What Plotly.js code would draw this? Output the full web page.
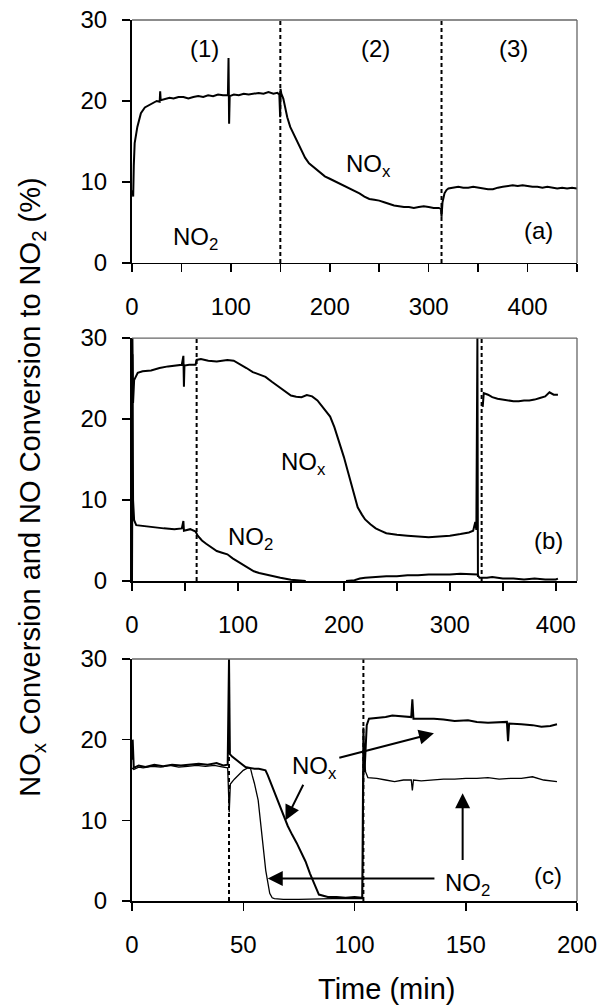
<!DOCTYPE html>
<html>
<head>
<meta charset="utf-8">
<script src="https://cdn.plot.ly/plotly-3.0.1.min.js"></script>
<style>
  html, body { margin: 0; padding: 0; background: #fff; }
  #chart { width: 597px; height: 1006px; }
</style>
</head>
<body>
<div id="chart"></div>
<script>
// ---------- Panel (a) ----------
const timeA = [0.5,1.2,1.8,2.7,5.4,9,13,17,21,25,28,28.5,29,33,38,42,47,52,57,62,67,72,77,82,87,92,97,97.6,98.2,98.8,103,108,113,118,123,128,133,138,143,147,149,149.8,150.2,151,153,155,157,160,163,167,171,175,179,183,187,191,195,200,205,210,215,220,225,230,235,240,245,250,255,260,265,270,275,280,285,290,295,300,305,310,312.5,313,314,316,318,320,325,330,335,340,345,350,355,360,365,370,375,380,385,390,395,400,405,410,415,420,425,430,435,440,445,450];
const noxA = [9,8.2,12,14.8,16.8,18.5,19.2,19.5,19.8,20.0,19.9,21.2,20.1,20.2,20.4,20.3,20.5,20.5,20.3,20.5,20.6,20.5,20.7,20.6,20.8,20.7,20.7,25.3,17.2,20.6,20.8,20.7,20.9,20.8,20.9,21.0,20.9,21.1,20.9,21.0,20.8,18.0,21.5,20.9,20.3,19.2,18.0,16.8,16.0,15.0,14.0,13.0,12.3,11.9,11.4,11.0,10.7,10.4,10.1,9.8,9.5,9.3,9.0,8.6,8.2,7.9,7.8,7.7,7.5,7.3,7.1,7.0,6.9,6.9,6.8,6.9,7.0,6.9,6.8,6.8,6.7,5.7,7.5,8.6,9.0,9.2,9.3,9.4,9.3,9.3,9.4,9.3,9.2,9.1,9.1,9.3,9.4,9.5,9.6,9.5,9.6,9.5,9.4,9.4,9.3,9.4,9.3,9.2,9.3,9.2,9.3,9.2];
const switchA = [150, 313];

// ---------- Panel (b) ----------
const timeB_nox = [0,0.4,1,2,5.4,10,18,26,34,42,47,48.5,49,49.5,54,60,61,65,72,80,90,96,102,108,114,120,126,132,140,146,150,155,160,165,170,175,180,183,187,191,195,200,204,208,213,217,220,225,230,235,240,245,250,260,270,280,290,300,310,318,322,324,325,326,326.5,328,331,332,336,340,345,350,355,360,365,370,375,380,385,390,394,398,402];
const noxB = [0,30,22,24.8,25.7,25.9,26.0,26.3,26.5,26.6,26.7,27.8,24.0,26.6,26.7,26.7,27.3,27.4,27.2,27.1,27.3,27.2,26.8,26.3,25.8,25.5,25.2,24.6,23.8,23.2,22.9,22.75,22.7,22.96,22.8,22.3,21.5,21.0,20.3,19.0,17.4,15.3,13.4,11.5,9.1,8.2,7.6,7.0,6.5,6.2,5.9,5.8,5.7,5.6,5.5,5.4,5.5,5.6,5.8,6.0,6.2,7.3,6.3,30,0.5,null,21.5,23.2,23.0,22.7,22.5,22.4,22.3,22.2,22.2,22.3,22.3,22.4,22.6,22.8,23.3,23.0,23.0];
const timeB_no2 = [0,0.4,1,2,4,10,20,30,40,47,48.5,49,55,60,62,66,70,75,80,85,90,95,100,108,115,120,126,132,140,150,160,164,180,202,210,215,220,230,240,250,260,270,280,290,300,310,320,326,328,335,340,350,360,370,380,390,400,402];
const no2B = [0,28,10,7.5,6.9,6.8,6.7,6.5,6.4,6.5,7.4,6.2,6.4,6.1,5.6,5.0,4.6,4.1,3.7,3.5,3.3,2.8,2.4,1.7,1.2,1.0,0.8,0.6,0.4,0.15,0.05,0,null,0,0.1,0.3,0.4,0.5,0.6,0.6,0.7,0.7,0.8,0.8,0.8,0.9,0.8,0.8,0.4,0.4,0.5,0.3,0.3,0.2,0.3,0.2,0.2,0.3];
const switchB = [61, 330];

// ---------- Panel (c) ----------
const timeC_nox = [0,0.3,0.8,3,6,10,14,18,22,26,30,34,38,41,43,43.6,44.0,45,47,49,51,53,55,57,59,60,61,62,63.6,66,68.7,70,72,74,77.3,78,80,82.5,84,88,92,96,100,103.5,104,104.5,105.5,106.5,110,114,117,122,125.5,126,126.5,130,135.7,140,145,151,155,160,165,168.5,169,169.5,175,180,184,188,191];
const noxC = [17.5,20,16.5,16.8,16.6,16.9,16.7,16.9,16.8,16.9,17.0,16.9,17.1,16.8,16.9,30,18.2,17.9,17.5,17.0,16.6,16.5,16.4,16.4,16.3,16.2,15.6,14.9,13.8,12.0,10.0,9.3,8.2,7.2,5.3,4.9,3.4,1.8,0.8,0.5,0.5,0.4,0.5,0.4,21.5,16,21.8,22.6,22.7,22.8,23.0,22.9,22.8,25.0,22.6,22.6,22.6,22.5,22.3,22.4,22.2,22.1,22.2,22.2,19.8,22.0,21.9,21.8,21.6,21.7,21.9];
const timeC_no2 = [0,0.8,3,5,9,13,17,21,25,29,33,37,41,43,43.7,44.2,46,48,50,52,53.3,54,55,56.7,58.4,60.1,61.9,63,64,68,75,80,85,90,95,100,103.5,104.2,105,106,110,114,118,122,125.5,126,126.5,130,135,140,145,150,155,160,165,170,175,180,185,190,191];
const no2C = [16.5,16.3,16.6,16.5,16.7,16.6,16.8,16.6,16.7,16.8,16.7,16.8,16.6,16.5,11.0,14.5,15.1,15.6,16.2,16.5,16.4,15.6,14.6,12.5,8.4,3.8,0.95,0.4,0.3,0.2,0.2,0.25,0.3,0.3,0.3,0.3,0.3,18,16.0,15.3,15.2,15.0,14.8,15.0,15.0,13.7,15.0,14.9,15.0,15.1,15.1,15.2,15.2,15.3,15.1,15.2,15.2,15.4,15.0,14.8,14.8];
const switchC = [43.6, 104];

// ---------- Text ----------
const phaseLabels = ['(1)', '(2)', '(3)'];
const panelLabels = ['(a)', '(b)', '(c)'];
const noxLabel = 'NO<sub>x</sub>';
const no2Label = 'NO<sub>2</sub>';
const yTitle = 'NO<sub>x</sub> Conversion and NO Conversion to NO<sub>2</sub> (%)';
const xTitle = 'Time (min)';

const FONT = 'Liberation Sans, Arial, Helvetica, sans-serif';
const lineStyle = {color: '#000', width: 2};

const traces = [
  {x: timeA, y: noxA, xaxis: 'x', yaxis: 'y', mode: 'lines', line: lineStyle},
  {x: timeB_nox, y: noxB, xaxis: 'x2', yaxis: 'y2', mode: 'lines', line: lineStyle, connectgaps: false},
  {x: timeB_no2, y: no2B, xaxis: 'x2', yaxis: 'y2', mode: 'lines', line: lineStyle, connectgaps: false},
  {x: timeC_nox, y: noxC, xaxis: 'x3', yaxis: 'y3', mode: 'lines', line: lineStyle},
  {x: timeC_no2, y: no2C, xaxis: 'x3', yaxis: 'y3', mode: 'lines', line: {color: '#000', width: 1.3}}
];

function xax(range, domainAnchor, dtick, minorDtick) {
  const a = {
    range: range, anchor: domainAnchor, dtick: dtick, tick0: 0,
    ticks: 'outside', ticklen: 8, tickwidth: 1.5, tickcolor: '#000',
    showline: true, linecolor: '#000', linewidth: 1.5,
    showgrid: false, zeroline: false, fixedrange: true,
    tickfont: {family: FONT, size: 24, color: '#000'},
    ticklabelstandoff: 14, ticklabeloverflow: 'allow'
  };
  if (minorDtick) a.minor = {dtick: minorDtick, ticks: 'outside', ticklen: 8, tickwidth: 1.5, tickcolor: '#000', showgrid: false};
  return a;
}
function yax(domain, anchor) {
  return {
    range: [0, 30], domain: domain, anchor: anchor, dtick: 10, tick0: 0,
    ticks: 'outside', ticklen: 8, tickwidth: 1.5, tickcolor: '#000',
    showline: true, linecolor: '#000', linewidth: 2,
    showgrid: false, zeroline: false, fixedrange: true,
    tickfont: {family: FONT, size: 24, color: '#000'},
    ticklabelstandoff: 10
  };
}

const shapes = [];
function addSwitches(list, xr, yr) {
  list.forEach(t => shapes.push({
    type: 'line', xref: xr, yref: yr + ' domain', x0: t, x1: t, y0: 0, y1: 1,
    line: {color: '#000', width: 2, dash: '4px,3px'}
  }));
}
addSwitches(switchA, 'x', 'y');
addSwitches(switchB, 'x2', 'y2');
addSwitches(switchC, 'x3', 'y3');
// top / right frame lines
[['x','y'],['x2','y2'],['x3','y3']].forEach(([xr, yr]) => {
  shapes.push({type: 'line', xref: xr + ' domain', yref: yr + ' domain', x0: 0, x1: 1, y0: 1, y1: 1, line: {color: '#666', width: 1.3}});
  shapes.push({type: 'line', xref: xr + ' domain', yref: yr + ' domain', x0: 1, x1: 1, y0: 0, y1: 1, line: {color: '#666', width: 1.3}});
});

const tf = {family: FONT, size: 24, color: '#000'};
function txt(xr, yr, x, y, text) {
  return {xref: xr, yref: yr, x: x, y: y, text: text, showarrow: false, font: tf, xanchor: 'center', yanchor: 'middle'};
}
function arrow(xr, yr, x0, y0, x1, y1) {
  return {xref: xr, yref: yr, axref: xr, ayref: yr, x: x1, y: y1, ax: x0, ay: y0, text: '',
    showarrow: true, arrowhead: 2, arrowsize: 1.5, arrowwidth: 2, arrowcolor: '#000', standoff: 0};
}

const annotations = [
  txt('x','y', 73, 26.5, phaseLabels[0]),
  txt('x','y', 246, 26.5, phaseLabels[1]),
  txt('x','y', 386, 26.5, phaseLabels[2]),
  txt('x','y', 64, 3.0, no2Label),
  txt('x','y', 239, 12, noxLabel),
  txt('x','y', 411, 4.0, panelLabels[0]),
  txt('x2','y2', 162, 14.5, noxLabel),
  txt('x2','y2', 112, 5.3, no2Label),
  txt('x2','y2', 393, 5.0, panelLabels[1]),
  txt('x3','y3', 82, 16.5, noxLabel),
  txt('x3','y3', 151, 2.0, no2Label),
  txt('x3','y3', 187, 3.2, panelLabels[2]),
  arrow('x3','y3', 92.5, 17.7, 135.7, 20.8),
  arrow('x3','y3', 77.3, 14.6, 69, 10.0),
  arrow('x3','y3', 136.6, 2.8, 61, 2.8),
  arrow('x3','y3', 148.6, 4.9, 148.6, 13.35),
  {xref: 'paper', yref: 'paper', x: -0.225, y: 0.47, text: yTitle, textangle: -90, showarrow: false,
   font: {family: FONT, size: 29, color: '#000'}, xanchor: 'center', yanchor: 'middle'},
  {xref: 'paper', yref: 'paper', x: 0.571, y: -0.10, text: xTitle, showarrow: false,
   font: {family: FONT, size: 29, color: '#000'}, xanchor: 'center', yanchor: 'middle'}
];

const layout = {
  width: 597, height: 1006,
  margin: {l: 132, r: 20, t: 20, b: 105},
  paper_bgcolor: '#fff', plot_bgcolor: '#fff',
  showlegend: false,
  xaxis: xax([0, 450], 'y', 100, 50),
  yaxis: yax([0.7242, 1.0], 'x'),
  xaxis2: xax([0, 420], 'y2', 100, 50),
  yaxis2: yax([0.3632, 0.6390], 'x2'),
  xaxis3: xax([0, 200], 'y3', 50, null),
  yaxis3: yax([0, 0.2747], 'x3'),
  shapes: shapes,
  annotations: annotations
};

Plotly.newPlot('chart', traces, layout, {staticPlot: true, displayModeBar: false});
</script>
</body>
</html>
